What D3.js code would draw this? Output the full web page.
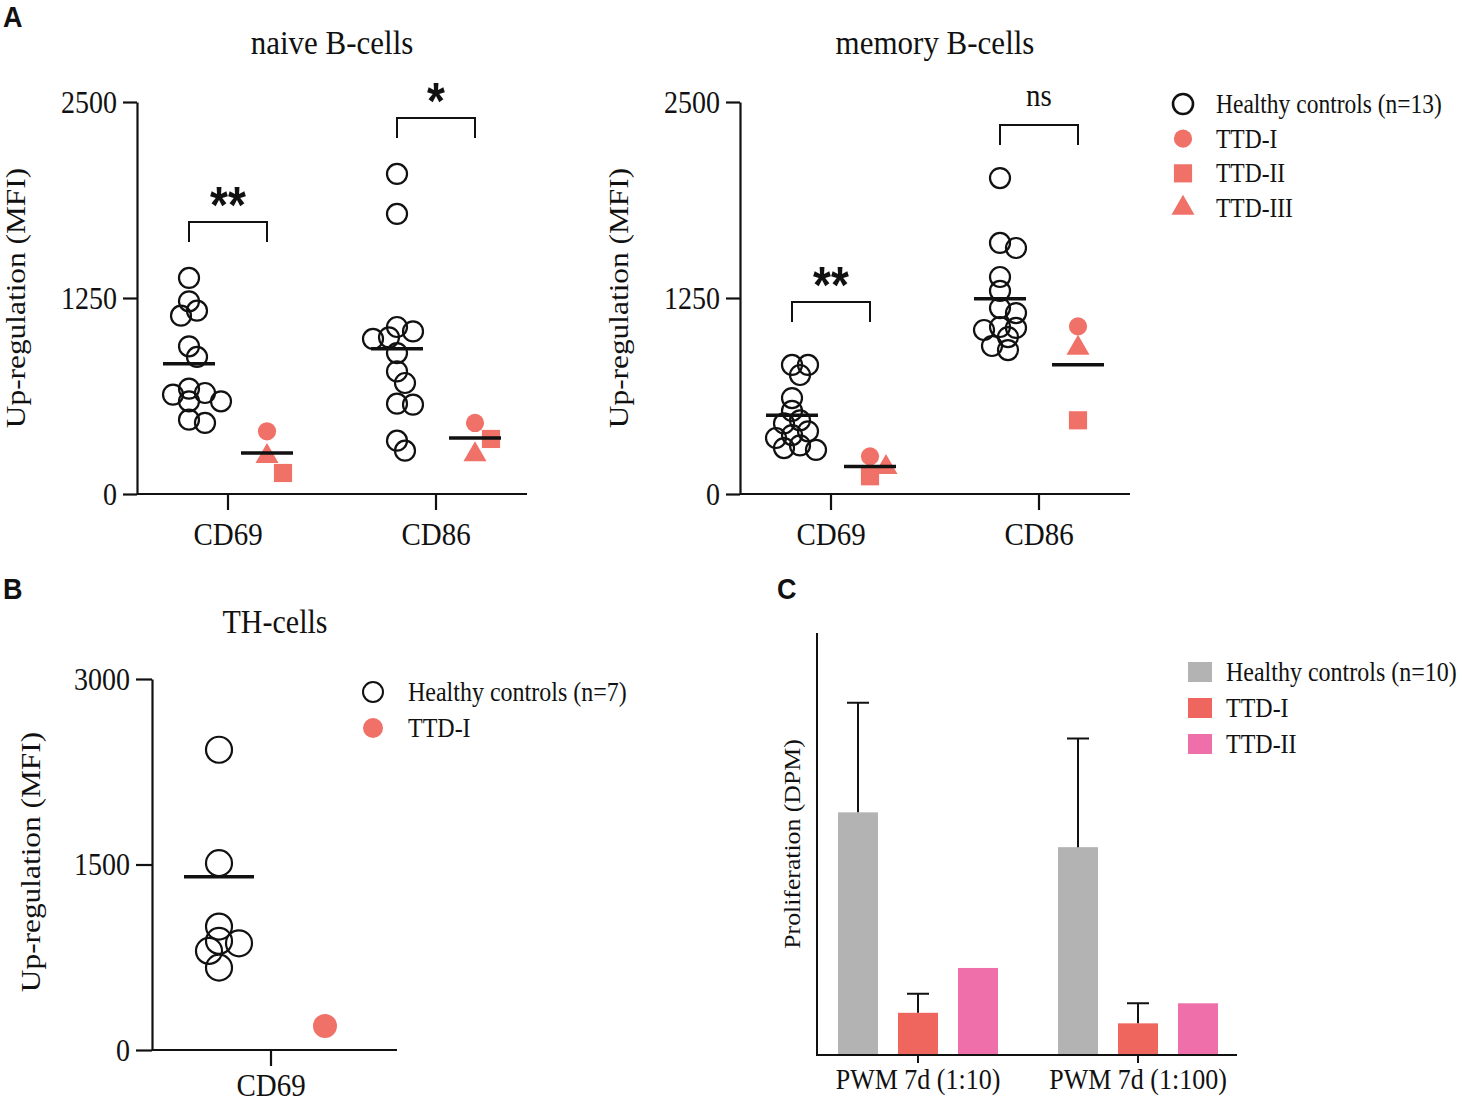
<!DOCTYPE html>
<html><head><meta charset="utf-8">
<script src="https://cdn.jsdelivr.net/npm/d3@7"></script>
<style>html,body{margin:0;padding:0;background:#fff}</style>
</head><body>
<svg id="fig" width="1463" height="1104"></svg>
<script>
// ---------------- DATA ----------------
const markers = ["CD69", "CD86"];
const ttdTypes = ["TTD-I", "TTD-II", "TTD-III"];

// Panel A: naive B-cells (MFI)
const naiveHealthyCD69 = [1378, 1229, 1169, 1137, 942, 874, 672, 644, 634, 591, 591, 474, 453];
const naiveHealthyCD86 = [2041, 1786, 1065, 1037, 999, 989, 899, 782, 708, 576, 570, 340, 276];
const naiveTTDCD69 = [400, 134, 240];   // TTD-I, TTD-II, TTD-III
const naiveTTDCD86 = [453, 351, 251];
const naiveLines = [[831, 261], [927, 357]]; // centre lines [healthy, TTD] per marker
const naiveSig = ["**", "*"];
const naiveBracket = [1735, 2398];

// Panel A: memory B-cells (MFI)
const memoryHealthyCD69 = [823, 823, 759, 612, 530, 470, 450, 400, 376, 357, 310, 293, 281];
const memoryHealthyCD86 = [2015, 1601, 1569, 1384, 1295, 1186, 1154, 1065, 1059, 1046, 1001, 944, 918];
const memoryTTDCD69 = [240, 113, 170];
const memoryTTDCD86 = [1069, 470, 931];
const memoryLines = [[502, 176], [1246, 825]];
const memorySig = ["**", "ns"];
const memoryBracket = [1225, 2353];

const legendA = ["Healthy controls (n=13)", "TTD-I", "TTD-II", "TTD-III"];
const ticksA = [0, 1250, 2500];

// Panel B: TH-cells
const thHealthyCD69 = [2428, 1511, 998, 882, 863, 801, 666];
const thTTD1CD69 = [194];
const thLine = [1400];
const ticksB = [0, 1500, 3000];
const legendB = ["Healthy controls (n=7)", "TTD-I"];

// Panel C: proliferation (DPM)
const pwmCats = ["PWM 7d (1:10)", "PWM 7d (1:100)"];
const pwmSeries = ["Healthy controls (n=10)", "TTD-I", "TTD-II"];
const pwmHealthy = [23000, 19700];
const pwmHealthyErr = [10400, 10300];
const pwmTTD1 = [4000, 3000];
const pwmTTD1Err = [1800, 1900];
const pwmTTD2 = [8250, 4900];

// ---------------- STYLE ----------------
const SERIF = "'Liberation Serif','Times New Roman',serif";
const SANS = "'Liberation Sans',Arial,sans-serif";
const SY = 1.12;
const INK = "#111";
const RED = "#f07167";
const C_GREY = "#b3b3b3", C_RED = "#ef665f", C_PINK = "#ee6fa9";
const fmt = d3.format("d");

const svg = d3.select("#fig");

function txt(sel, x, y, s, o = {}) {
  const tr = `translate(${x},${y})` + (o.rotate ? ` rotate(${o.rotate}) scale(${SY},1)` : ` scale(1,${SY})`);
  const g = sel.append("g").attr("transform", tr);
  g.append("text").text(s)
    .attr("font-family", o.family || SERIF)
    .attr("font-size", o.size || 28)
    .attr("font-weight", o.weight || "normal")
    .attr("text-anchor", o.anchor || "start")
    .attr("dominant-baseline", o.baseline || "auto")
    .attr("fill", INK);
  return g;
}

function dodge(values, y, minDist, step) {
  const order = values.map((v, i) => i).sort((a, b) => values[b] - values[a]);
  const placed = [], xs = new Array(values.length);
  for (const i of order) {
    const yi = y(values[i]);
    for (let k = 0; k < 40; k++) {
      const off = k === 0 ? 0 : (k % 2 ? 1 : -1) * Math.ceil(k / 2) * step;
      if (placed.every(p => Math.hypot(p.x - off, p.y - yi) >= minDist)) {
        xs[i] = off; placed.push({ x: off, y: yi }); break;
      }
    }
  }
  return xs;
}

const symGen = {
  "TTD-I": d3.symbol(d3.symbolCircle, 260),
  "TTD-II": d3.symbol(d3.symbolSquare, 330),
  "TTD-III": d3.symbol(d3.symbolTriangle, 230)
};

function axisStyle(g) {
  g.selectAll("line,path").attr("stroke", INK).attr("stroke-width", 2.2);
}

// ---------------- PANEL A ----------------
function scatterPanel(cfg) {
  const g = svg.append("g");
  const y = d3.scaleLinear().domain([0, 2500]).range([494, 102]);
  const x = d3.scaleBand().domain(markers).range([cfg.x0 - 13, cfg.x0 + 403]);
  const sub = d3.scalePoint().domain(["H", "T"]).range([-39, 39]);
  const cx = (m, s) => x(m) + x.bandwidth() / 2 + sub(s);

  const ya = g.append("g").attr("transform", `translate(${cfg.x0},0)`)
    .call(d3.axisLeft(y).tickValues(ticksA).tickFormat(fmt).tickSize(14).tickSizeOuter(0).tickPadding(6));
  axisStyle(ya);
  ya.selectAll("text").attr("font-family", SERIF).attr("font-size", 28).attr("fill", INK)
    .attr("transform", `scale(1,${SY})`);
  const xa = g.append("g").attr("transform", `translate(0,${y(0)})`)
    .call(d3.axisBottom(x).tickSize(16).tickSizeOuter(0).tickFormat(""));
  xa.select(".domain").remove();
  xa.append("line").attr("x1", cfg.x0).attr("x2", cfg.x0 + 390).attr("y1", 0).attr("y2", 0);
  axisStyle(xa);
  markers.forEach(m => txt(g, x(m) + x.bandwidth() / 2, 545, m, { size: 29, anchor: "middle" }));

  txt(g, cfg.x0 + 195, 54, cfg.title, { size: 31, anchor: "middle" });
  txt(g, cfg.x0 - 112, 298, "Up-regulation (MFI)", { size: 28, anchor: "middle", rotate: -90 });

  markers.forEach((m, mi) => {
    const hv = cfg.healthy[mi];
    const hx = dodge(hv, y, 12, 8);
    g.append("g").selectAll("circle").data(hv).join("circle")
      .attr("cx", (d, i) => cx(m, "H") + hx[i]).attr("cy", d => y(d)).attr("r", 10)
      .attr("fill", "none").attr("stroke", INK).attr("stroke-width", 2.2);
    const tv = cfg.ttd[mi];
    const tx = dodge(tv, y, 18, 16);
    g.append("g").selectAll("path").data(tv).join("path")
      .attr("d", (d, i) => symGen[ttdTypes[i]]())
      .attr("transform", (d, i) => `translate(${cx(m, "T") + tx[i]},${y(d)})`)
      .attr("fill", RED);
    ["H", "T"].forEach((s, si) => {
      g.append("line").attr("x1", cx(m, s) - 26).attr("x2", cx(m, s) + 26)
        .attr("y1", y(cfg.lines[mi][si])).attr("y2", y(cfg.lines[mi][si]))
        .attr("stroke", INK).attr("stroke-width", 3.5);
    });
    const by = y(cfg.bracket[mi]);
    g.append("path")
      .attr("d", `M${cx(m, "H")},${by + 20}V${by}H${cx(m, "T")}V${by + 20}`)
      .attr("fill", "none").attr("stroke", INK).attr("stroke-width", 2);
    const lab = cfg.sig[mi];
    if (lab === "ns") txt(g, x(m) + x.bandwidth() / 2, by - 19, lab, { size: 29, anchor: "middle" });
    else txt(g, x(m) + x.bandwidth() / 2, by + 1, lab, { size: 46, anchor: "middle", weight: "bold", family: SANS });
  });
}

scatterPanel({ x0: 137, title: "naive B-cells", healthy: [naiveHealthyCD69, naiveHealthyCD86],
  ttd: [naiveTTDCD69, naiveTTDCD86], lines: naiveLines, sig: naiveSig, bracket: naiveBracket });
scatterPanel({ x0: 740, title: "memory B-cells", healthy: [memoryHealthyCD69, memoryHealthyCD86],
  ttd: [memoryTTDCD69, memoryTTDCD86], lines: memoryLines, sig: memorySig, bracket: memoryBracket });

{
  const lg = svg.append("g");
  const ly = d3.scalePoint().domain(legendA).range([104, 208]);
  legendA.forEach((l, i) => {
    if (i === 0) lg.append("circle").attr("cx", 1183).attr("cy", ly(l)).attr("r", 10)
      .attr("fill", "none").attr("stroke", INK).attr("stroke-width", 2.6);
    else lg.append("path").attr("d", symGen[ttdTypes[i - 1]]())
      .attr("transform", `translate(1183,${ly(l)})`).attr("fill", RED);
    txt(lg, 1216, ly(l), l, { size: 23.5, baseline: "central" });
  });
}

txt(svg, 3, 27, "A", { size: 27, weight: "bold", family: SANS });
txt(svg, 3, 599, "B", { size: 27, weight: "bold", family: SANS });
txt(svg, 777, 599, "C", { size: 27, weight: "bold", family: SANS });

// ---------------- PANEL B ----------------
{
  const g = svg.append("g");
  const y = d3.scaleLinear().domain([0, 3000]).range([1050, 679]);
  const x = d3.scaleBand().domain(["CD69"]).range([152, 394]);
  const sub = d3.scalePoint().domain(["H", "T"]).range([-52, 54]);
  const mid = x("CD69") + x.bandwidth() / 2 - 2;

  const ya = g.append("g").attr("transform", "translate(152,0)")
    .call(d3.axisLeft(y).tickValues(ticksB).tickFormat(fmt).tickSize(16).tickSizeOuter(0).tickPadding(6));
  axisStyle(ya);
  ya.selectAll("text").attr("font-family", SERIF).attr("font-size", 28).attr("fill", INK)
    .attr("transform", `scale(1,${SY})`);
  const xa = g.append("g").attr("transform", `translate(0,${y(0)})`)
    .call(d3.axisBottom(x).tickSize(16).tickSizeOuter(0).tickFormat(""));
  xa.select(".domain").remove();
  xa.selectAll(".tick").attr("transform", `translate(${mid},0)`);
  xa.append("line").attr("x1", 152).attr("x2", 397).attr("y1", 0).attr("y2", 0);
  axisStyle(xa);
  txt(g, mid, 1096, "CD69", { size: 29, anchor: "middle" });
  txt(g, 275, 633, "TH-cells", { size: 30, anchor: "middle" });
  txt(g, 40, 862, "Up-regulation (MFI)", { size: 28, anchor: "middle", rotate: -90 });

  const hx = dodge(thHealthyCD69, y, 13, 10);
  g.append("g").selectAll("circle").data(thHealthyCD69).join("circle")
    .attr("cx", (d, i) => mid + sub("H") + hx[i]).attr("cy", d => y(d)).attr("r", 13)
    .attr("fill", "none").attr("stroke", INK).attr("stroke-width", 2.2);
  g.append("g").selectAll("circle").data(thTTD1CD69).join("circle")
    .attr("cx", mid + sub("T")).attr("cy", d => y(d)).attr("r", 12).attr("fill", RED);
  g.append("line").attr("x1", mid + sub("H") - 35).attr("x2", mid + sub("H") + 35)
    .attr("y1", y(thLine[0])).attr("y2", y(thLine[0])).attr("stroke", INK).attr("stroke-width", 3.5);

  const ly = d3.scalePoint().domain(legendB).range([692, 728]);
  g.append("circle").attr("cx", 373).attr("cy", ly(legendB[0])).attr("r", 10)
    .attr("fill", "none").attr("stroke", INK).attr("stroke-width", 2);
  g.append("circle").attr("cx", 373).attr("cy", ly(legendB[1])).attr("r", 10).attr("fill", RED);
  legendB.forEach(l => txt(g, 408, ly(l), l, { size: 24, baseline: "central" }));
}

// ---------------- PANEL C ----------------
{
  const g = svg.append("g");
  const y = d3.scaleLinear().domain([0, 40000]).range([1055, 633]);
  const x = d3.scaleBand().domain(pwmCats).range([808, 1248]);
  const xs = d3.scaleBand().domain(pwmSeries).range([0, 180]).paddingInner(1 / 3).paddingOuter(1 / 6);
  const gx = c => x(c) + x.bandwidth() / 2 - 90;
  const colors = [C_GREY, C_RED, C_PINK];
  const vals = [pwmHealthy, pwmTTD1, pwmTTD2];
  const errs = [pwmHealthyErr, pwmTTD1Err, null];

  vals.forEach((arr, si) => {
    g.append("g").selectAll("rect").data(arr).join("rect")
      .attr("x", (d, i) => gx(pwmCats[i]) + xs(pwmSeries[si]))
      .attr("width", xs.bandwidth())
      .attr("y", d => y(d)).attr("height", d => y(0) - y(d))
      .attr("fill", colors[si]);
    if (errs[si]) {
      arr.forEach((d, i) => {
        const cx = gx(pwmCats[i]) + xs(pwmSeries[si]) + xs.bandwidth() / 2;
        g.append("path").attr("d", `M${cx},${y(d)}V${y(d + errs[si][i])}M${cx - 11},${y(d + errs[si][i])}H${cx + 11}`)
          .attr("stroke", INK).attr("stroke-width", 2).attr("fill", "none");
      });
    }
  });

  g.append("line").attr("x1", 817).attr("x2", 817).attr("y1", 633).attr("y2", y(0))
    .attr("stroke", INK).attr("stroke-width", 2);
  const xa = g.append("g").attr("transform", `translate(0,${y(0)})`)
    .call(d3.axisBottom(x).tickSize(8).tickSizeOuter(0).tickFormat(""));
  xa.select(".domain").remove();
  xa.append("line").attr("x1", 816).attr("x2", 1237).attr("y1", 0).attr("y2", 0);
  axisStyle(xa);
  xa.selectAll("line,path").attr("stroke-width", 2);
  pwmCats.forEach(c => txt(g, x(c) + x.bandwidth() / 2, 1089, c, { size: 26, anchor: "middle" }));
  txt(g, 800, 844, "Proliferation (DPM)", { size: 23, anchor: "middle", rotate: -90 });

  const ly = d3.scalePoint().domain(pwmSeries).range([672, 744]);
  pwmSeries.forEach((s, i) => {
    g.append("rect").attr("x", 1188).attr("y", ly(s) - 10).attr("width", 24).attr("height", 20).attr("fill", colors[i]);
    txt(g, 1226, ly(s), s, { size: 24, baseline: "central" });
  });
}
</script>
</body></html>
